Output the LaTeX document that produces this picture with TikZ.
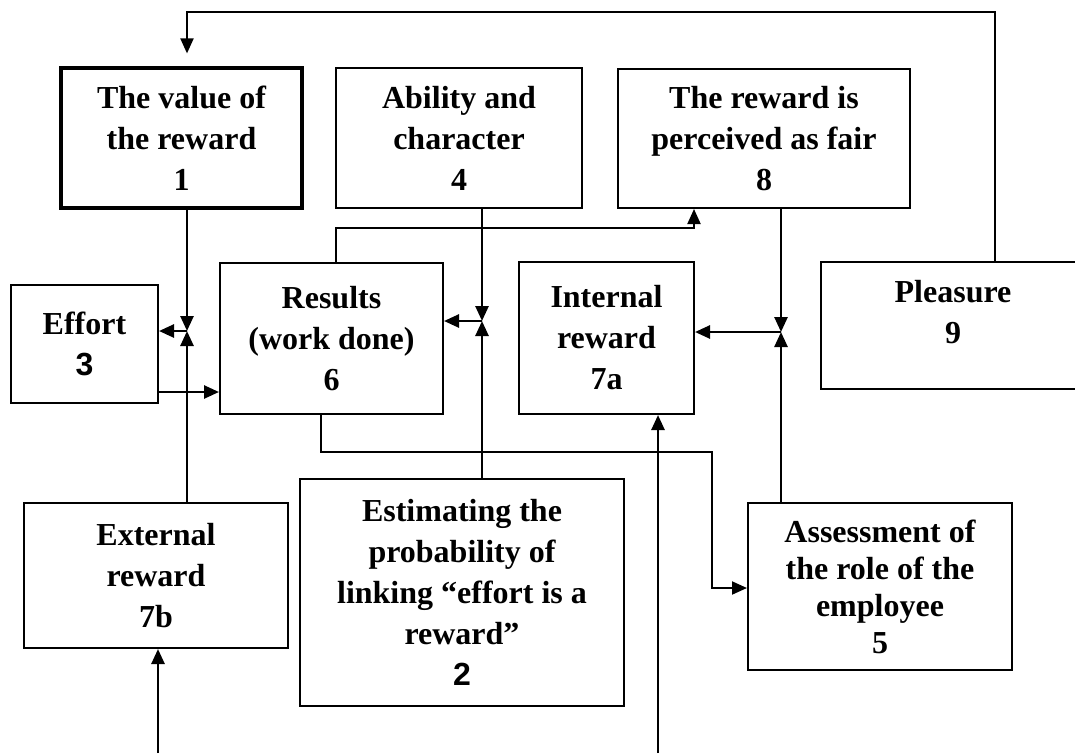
\documentclass[tikz,border=0pt]{standalone}
\usepackage{fontspec}
\setmainfont{Liberation Serif}
\newfontfamily\numsans{Liberation Sans}
\usetikzlibrary{arrows.meta}
\newcommand\rewfont{\fontsize{32}{41}\selectfont\bfseries}
\begin{document}
\begin{tikzpicture}[x=1pt,y=-1pt,
    arr/.style={line width=2.6pt,-{Triangle[length=15pt,width=13pt]}},
    thinarr/.style={line width=1.9pt,-{Triangle[length=15pt,width=13pt]}}]

      \useasboundingbox (0,0) rectangle (1075,753);
      \clip (0,0) rectangle (1075,753);

      \begin{scope}[every node/.style={draw,line width=2pt,align=center,inner sep=0pt,font=\rewfont}]
        \node[line width=3.2pt,minimum width=241pt,minimum height=140pt] (1) at (181.5,138) {The value of\\the reward\\1};
        \node[minimum width=246pt,minimum height=140pt] (4) at (459,138) {Ability and\\character\\4};
        \node[minimum width=292pt,minimum height=139pt] (8) at (764,138.5) {The reward is\\perceived as fair\\8};
        \node[minimum width=147pt,minimum height=118pt] (3) at (84.5,344) {Effort\\{\numsans\bfseries 3}};
        \node[minimum width=223pt,minimum height=151pt] (6) at (331.5,338.5) {Results\\(work done)\\6};
        \node[minimum width=175pt,minimum height=152pt] (7a) at (606.5,338) {Internal\\reward\\7a};
        \node[minimum width=264pt,minimum height=127pt] (9) at (953,325.5) {Pleasure\\9\\[-14pt]\mbox{}};
        \node[minimum width=264pt,minimum height=145pt] (7b) at (156,575.5) {External\\reward\\7b};
        \node[minimum width=324pt,minimum height=227pt] (2) at (462,592.5) {Estimating the\\probability of\\linking “effort is a\\reward”\\{\numsans\bfseries 2}};
        \node[minimum width=264pt,minimum height=167pt,font=\fontsize{32}{37}\selectfont\bfseries] (5) at (880,586.5) {Assessment of\\the role of the\\employee\\5};
      \end{scope}

      % junctions and free ends
      \coordinate (j1) at (187,331);
      \coordinate (j4) at (482,321);
      \coordinate (j8) at (781,332);
      \coordinate (fb) at (995,12);
      \coordinate (in7a) at (658,753);
      \coordinate (in7b) at (158,753);

      \begin{scope}[every edge/.style={draw,arr}]
        \path (1.south -| j1) edge (j1);
        \path (7b.north -| j1) edge (j1);
        \path (j1) edge (j1 -| 3.east);
        \path (3.east |- 0,392) edge (6.west |- 0,392);
        \path (4.south -| j4) edge (j4);
        \path (2.north -| j4) edge (j4);
        \path (j4) edge (j4 -| 6.east);
        \path (8.south -| j8) edge (j8);
        \path (5.north -| j8) edge (j8);
        \path (j8) edge (j8 -| 7a.east);
        \path (in7a) edge (7a.south -| in7a);
        \path (in7b) edge (7b.south -| in7b);
      \end{scope}

      \draw[thinarr] (6.north -| 336,0) |- (694,228) -- (8.south -| 694,0);
      \draw[thinarr] (6.south -| 321,0) |- (712,452) |- (5.west |- 0,588);
      \draw[arr,line width=2pt,shorten >=13pt] (9.north -| fb) -- (fb) -| (1.north -| j1);

    \end{tikzpicture}
\end{document}
